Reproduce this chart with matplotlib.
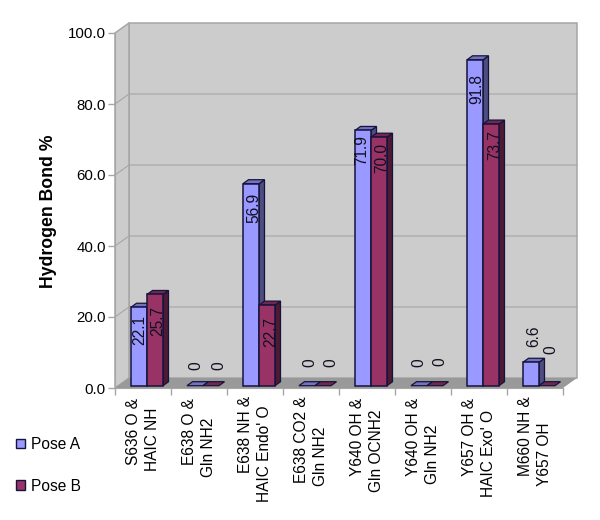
import matplotlib
matplotlib.use('Agg')
import matplotlib.pyplot as plt
from matplotlib.patches import Patch

plt.rcParams['font.family'] = ['Liberation Sans', 'DejaVu Sans']

# data
line1 = ['S636 O &', 'E638 O &', 'E638 NH &', 'E638 CO2 &', 'Y640 OH &', 'Y640 OH &', 'Y657 OH &', 'M660 NH &']
line2 = ['HAIC NH', 'Gln NH2', "HAIC Endo' O", 'Gln NH2', 'Gln OCNH2', 'Gln NH2', "HAIC Exo' O", 'Y657 OH']
pose_a = [22.1, 0, 56.9, 0, 71.9, 0, 91.8, 6.6]
pose_b = [25.7, 0, 22.7, 0, 70.0, 0, 73.7, 0]
y_ticks = [0, 20, 40, 60, 80, 100]

# hand placed label offsets from bar top, pixels
off_a = [(0.7, -22.7), (1.3, 19.7), (3, -24), (2.7, 22.7), (-1, -20), (-0.3, 22.7), (2, -29), (2.7, 25.6)]
off_b = [(2.7, -27), (7.7, 19.7), (4, -26.7), (7.7, 22.7), (3, -21), (5, 23.7), (4, -21), (4, 35.7)]
# where each line of the category label starts, pixels below the axis
top1 = [10, 10, 8, 8, 10, 10, 10, 8]
top2 = [20, 30, 17, 39, 22, 37, 22, 35]

WALL, FLOOR, LINE = '#cccccc', '#999999', '#a6a6a6'
FS = 11.2

fig = plt.figure(figsize=(6, 5.2), dpi=100)
ax = fig.add_axes([115 / 600, (520 - 388) / 520, 448 / 600, 355 / 520])
ax.set_xlim(0, 8)
ax.set_ylim(0, 100)
ax.patch.set_visible(False)

xpx = 8 / 448
ypx = 100 / 355
DX, DY = 14 * xpx, 10 * ypx


def face(xs, ys, color, edge, lw=1.0, z=2):
    ax.fill(xs, ys, facecolor=color, edgecolor=edge, linewidth=lw, clip_on=False, zorder=z, joinstyle='miter')


# walls and floor
face([DX, 8 + DX, 8 + DX, DX], [DY, DY, 100 + DY, 100 + DY], WALL, LINE, 1.1, 1)
face([0, DX, DX, 0], [0, DY, 100 + DY, 100], WALL, LINE, 1.1, 1)
face([0, 8, 8 + DX, DX], [0, 0, DY, DY], FLOOR, 'none', 0, 1)
for t in y_ticks[1:-1]:
    ax.plot([0, DX, 8 + DX], [t, t + DY, t + DY], color=LINE, lw=0.8, clip_on=False, zorder=1.5)

# bars, each with a front, a top and a side face
bw = 16 * xpx
start = 16 * xpx
base = 2.3 * ypx
bx, by = 5.5 * xpx, 4 * ypx
EDGE = '#14143c'


def draw_bars(values, shift, front, top, side, z):
    for i, v in enumerate(values):
        x0 = i + start + shift * bw
        y1 = base + v
        if v > 0:
            face([x0 + bw, x0 + bw + bx, x0 + bw + bx, x0 + bw], [base, base + by, y1 + by, y1], side, EDGE, 0.9, z)
        face([x0, x0 + bw, x0 + bw + bx, x0 + bx], [y1, y1, y1 + by, y1 + by], top, EDGE, 0.9, z)
        if v > 0:
            ax.bar(x0, v, bw, bottom=base, align='edge', color=front, edgecolor=EDGE, linewidth=1.1, zorder=z, clip_on=False)


draw_bars(pose_a, 0, '#9999ff', '#7272bf', '#4d4d80', 3)
draw_bars(pose_b, 1, '#993366', '#732650', '#4d1a33', 4)


def value_labels(values, shift, offs):
    for i, v in enumerate(values):
        s = '0' if v == 0 else f'{v:.1f}'
        x = i + start + shift * bw + bw / 2
        ax.annotate(s, (x, base + v), xytext=(offs[i][0] * 0.72, offs[i][1] * 0.72), textcoords='offset points',
                    rotation=90, ha='center', va='center', fontsize=FS, color='#101020', zorder=6,
                    annotation_clip=False)


value_labels(pose_a, 0, off_a)
value_labels(pose_b, 1, off_b)

# axes
for name in ['top', 'right']:
    ax.spines[name].set_visible(False)
for name in ['left', 'bottom']:
    ax.spines[name].set_color(LINE)
    ax.spines[name].set_zorder(2)
ax.set_yticks(y_ticks)
ax.set_yticklabels([f'{t:.1f}' for t in y_ticks], fontsize=10.8)
ax.set_xticks(range(9))
ax.set_xticklabels([])
ax.tick_params(axis='y', length=5, width=1, color=LINE, pad=1.5)
ax.tick_params(axis='x', length=5, width=1, color=LINE)
ax.set_ylabel('Hydrogen Bond %', fontsize=12.7, fontweight='bold', labelpad=0)
ax.yaxis.set_label_coords((57 - 115) / 448, 0.497)

# category labels
for i in range(8):
    ax.annotate(line1[i], (i + 0.5, 0), xytext=(-10 * 0.72, -top1[i] * 0.72), textcoords='offset points',
                rotation=90, ha='center', va='top', fontsize=FS, annotation_clip=False)
    ax.annotate(line2[i], (i + 0.5, 0), xytext=(9.5 * 0.72, -top2[i] * 0.72), textcoords='offset points',
                rotation=90, ha='center', va='top', fontsize=FS, annotation_clip=False)

handles = [Patch(facecolor='#9999ff', edgecolor=EDGE, label='Pose A'),
           Patch(facecolor='#993366', edgecolor=EDGE, label='Pose B')]
fig.legend(handles=handles, loc='upper left', bbox_to_anchor=(16 / 600, 1 - 437 / 520), frameon=False,
           fontsize=FS, handlelength=0.58, handleheight=0.58, labelspacing=1.72, handletextpad=0.4,
           borderpad=0, borderaxespad=0)

fig.savefig('out.png', dpi=100)
